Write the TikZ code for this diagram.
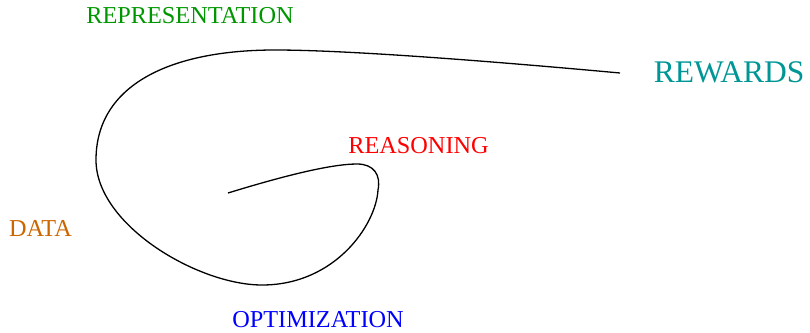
\documentclass[tikz,border=0pt]{standalone}
\usepackage{fontspec}
\setmainfont{Liberation Serif}
\usepackage{xcolor}
\definecolor{repgreen}{RGB}{0,150,0}
\definecolor{rewteal}{RGB}{0,150,150}
\definecolor{datorange}{RGB}{204,102,0}

\begin{document}
\begin{tikzpicture}[x=1pt,y=-1pt,
    lab/.style={anchor=base,inner sep=0pt,font=\fontsize{24.3}{28}\selectfont}]
    \useasboundingbox (0,0) rectangle (810,332);
    % labels
    \node[lab,text=repgreen] (representation) at (190,23) {REPRESENTATION};
    \node[lab,text=rewteal,font=\fontsize{31.5}{36}\selectfont] (rewards) at (729,82.5) {REWARDS};
    \node[lab,text=red] (reasoning) at (418.5,153) {REASONING};
    \node[lab,text=datorange] (data) at (40.5,236) {DATA};
    \node[lab,text=blue] (optimization) at (318,327.5) {OPTIMIZATION};
    % the path
    \coordinate (start) at (228,193);
    \coordinate (finish) at (620,73);
    \draw[line width=1.3pt] (start) .. controls (280,177) and (330,164) .. (357,164)
        .. controls (374,164) and (381,175) .. (378,190)
        .. controls (376,225) and (335,285) .. (262,285)
        .. controls (198,285) and (96,225) .. (96,160)
        .. controls (96,85) and (170,50) .. (275,50)
        .. controls (350,50) and (500,62) .. (finish);
\end{tikzpicture}
\end{document}
